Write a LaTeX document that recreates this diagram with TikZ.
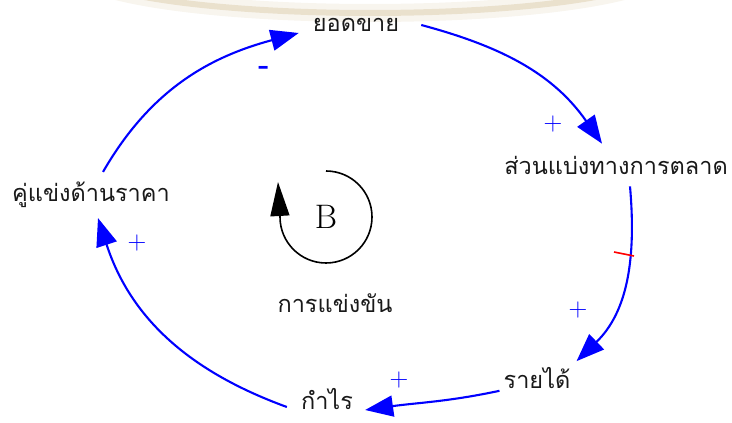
\documentclass[tikz,border=0pt]{standalone}
\usepackage{fontspec}
\newfontfamily\thaifont[Script=Thai]{Loma}
\usetikzlibrary{arrows.meta}
\definecolor{rim}{RGB}{222,208,178}
\definecolor{linkblue}{RGB}{0,0,255}
\definecolor{tick}{RGB}{255,0,0}

\begin{document}
\begin{tikzpicture}[x=1pt,y=1pt,
 var/.style={font=\thaifont\fontsize{23.5}{28}\selectfont, text=black!90, inner sep=0pt},
 link/.style={linkblue, line width=2.1pt, -{Triangle[length=28pt,width=21pt]}},
 sgn/.style={font=\fontsize{26}{30}\selectfont, text=linkblue, inner sep=0pt},
 loopline/.style={black, line width=1.6pt, -{Triangle[length=34pt,width=19pt]}},
]
 \useasboundingbox (0,0) rectangle (732,423);
 % faint beige rim cut by the top edge
 \begin{scope}
   \clip (0,0) rectangle (732,423);
   \draw[rim, line width=18pt, opacity=0.22] (370,455) ellipse (295 and 45);
   \draw[rim, line width=6pt, opacity=0.55] (370,455) ellipse (295 and 45);
 \end{scope}
 % variables
 \node[var] (sales)   at (356,398) {ยอดขาย};
 \node[var] (share)   at (616,258) {ส่วนแบ่งทางการตลาด};
 \node[var] (revenue) at (537,45)  {รายได้};
 \node[var] (profit)  at (327,24)  {กำไร};
 \node[var] (rival)   at (91,228)  {คู่แข่งด้านราคา};
 % links round the loop
 \draw[link] ([xshift=22pt]sales.east) to[out=-15,in=125] ([xshift=-14pt,yshift=12pt]share.north);
 \draw[link] ([xshift=14pt,yshift=-12pt]share.south) to[out=-85,in=44] ([xshift=6pt,yshift=6pt]revenue.north east);
 \draw[link] ([xshift=-4pt,yshift=-2pt]revenue.south west) to[out=192,in=8] ([xshift=12pt,yshift=-11pt]profit.east);
 \draw[link] ([xshift=-14pt,yshift=-8pt]profit.west) to[out=160,in=-72] ([xshift=7pt,yshift=-10pt]rival.south);
 \draw[link] ([xshift=12pt,yshift=10pt]rival.north) to[out=60,in=195] ([xshift=-14pt,yshift=-8pt]sales.west);
 % polarities
 \node[sgn] (p1) at (553,299) {+};
 \node[sgn] (p2) at (578,113) {+};
 \node[sgn] (p3) at (399,43)  {+};
 \node[sgn] (p4) at (137,180) {+};
 \node[sgn, font=\bfseries\fontsize{30}{34}\selectfont] (m1) at (264,353) {-};
 % small red mark on the share link
 \draw[tick, line width=1.6pt] (614,171) -- (634,167);
 % balancing loop
 \node[font=\fontsize{34}{40}\selectfont, inner sep=0pt] (B) at (326,206) {B};
 \draw[loopline] (B.center) ++(0,46) arc[start angle=90, end angle=-180, radius=46] -- ++(-2,35);
 \node[var] (comp) at (335,120) {การแข่งขัน};
\end{tikzpicture}
\end{document}
